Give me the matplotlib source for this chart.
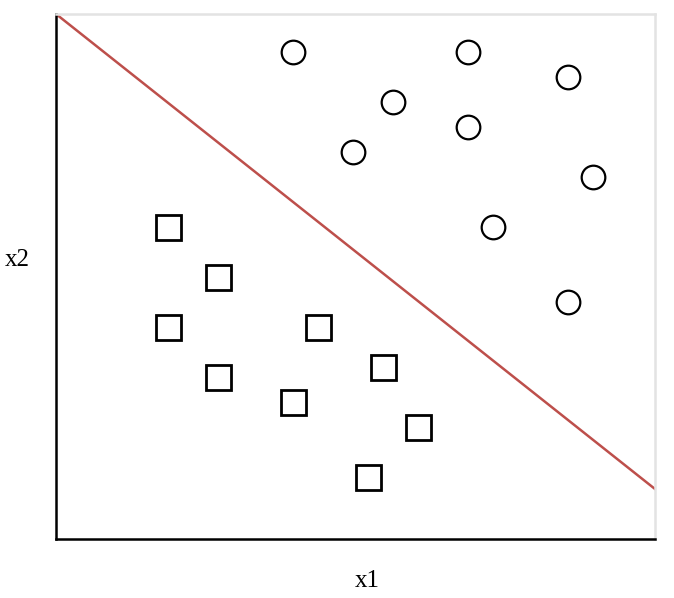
import matplotlib
matplotlib.use("Agg")
import matplotlib.pyplot as plt

# ── Data ─────────────────────────────────────────────────────────────────────
circle_x = [4.75, 8.25, 10.25, 6.75, 8.25, 5.95, 10.75, 8.75, 10.25]
circle_y = [9.75, 9.75, 9.25, 8.75, 8.25, 7.75, 7.25, 6.25, 4.75]

square_x = [2.25, 3.25, 2.25, 5.25, 6.55, 3.25, 4.75, 7.25, 6.25]
square_y = [6.25, 5.25, 4.25, 4.25, 3.45, 3.25, 2.75, 2.25, 1.25]

boundary_x = [0, 12]
boundary_y = [10.5, 1.0]

# ── Figure ───────────────────────────────────────────────────────────────────
W, H, DPI = 674, 598, 100
fig = plt.figure(figsize=(W / DPI, H / DPI), dpi=DPI)
ax = fig.add_axes([56 / W, 1 - 539 / H, (655 - 56) / W, (539 - 14) / H])

ax.plot(boundary_x, boundary_y, color="#bd4f4b", lw=1.8, zorder=2)
ax.plot(circle_x, circle_y, "o", ms=17, mfc="white", mec="black", mew=1.6, zorder=3)
ax.plot(square_x, square_y, "s", ms=18, mfc="white", mec="black", mew=2.0, zorder=3)

ax.set_xlim(0, 12)
ax.set_ylim(0, 10.5)
ax.set_xticks([])
ax.set_yticks([])

for side in ["left", "bottom"]:
    ax.spines[side].set_color("black")
    ax.spines[side].set_linewidth(1.8)
for side in ["top", "right"]:
    ax.spines[side].set_color("#e3e3e3")
    ax.spines[side].set_linewidth(1.8)

fig.text(367 / W, 1 - 587 / H, "x1", ha="center", va="baseline",
         family="Liberation Serif", fontsize=18)
fig.text(17 / W, 1 - 266 / H, "x2", ha="center", va="baseline",
         family="Liberation Serif", fontsize=18)

fig.savefig("out.png", dpi=DPI)
